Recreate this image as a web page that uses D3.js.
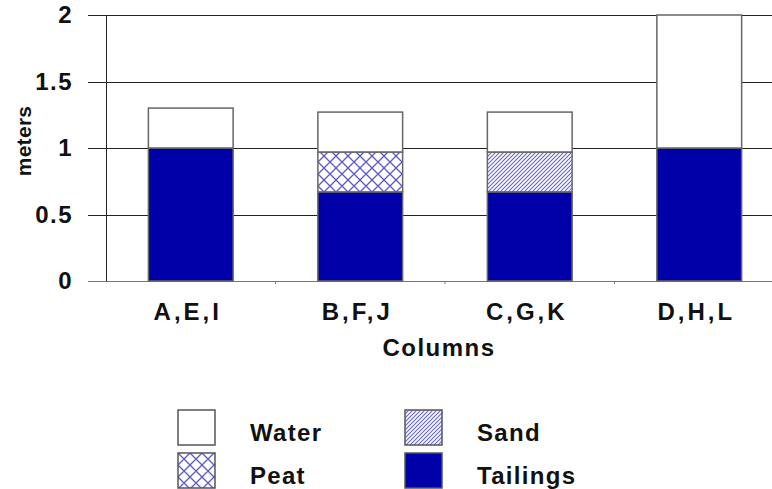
<!DOCTYPE html>
<html>
<head>
<meta charset="utf-8">
<script src="https://d3js.org/d3.v7.min.js"></script>
<style>
  body { margin: 0; background: #fff; }
  text { font-family: "Liberation Sans", Arial, sans-serif; font-weight: bold; fill: #111; }
</style>
</head>
<body>
<script>
// data
const categories = ["A,E,I", "B,F,J", "C,G,K", "D,H,L"];
const tailings = [1, 0.67, 0.67, 1];
const peat = [0, 0.3, 0, 0];
const sand = [0, 0, 0.3, 0];
const water = [0.3, 0.3, 0.3, 1];
const yTicks = [0, 0.5, 1, 1.5, 2];
const seriesNames = ["Tailings", "Peat", "Sand", "Water"];
const legendOrder = ["Water", "Sand", "Peat", "Tailings"];

let width = 772, height = 489;

let svg = d3.select("body").append("svg")
    .attr("width", width)
    .attr("height", height);

// fill patterns
let defs = svg.append("defs");
let peatPat = defs.append("pattern")
    .attr("id", "peat")
    .attr("patternUnits", "userSpaceOnUse")
    .attr("width", 12).attr("height", 12);
peatPat.append("rect").attr("width", 12).attr("height", 12).attr("fill", "#fff");
peatPat.append("path")
    .attr("d", "M0,0L12,12M12,0L0,12M-6,6L0,0M6,18L18,6M-6,6L6,18M6,-6L18,6")
    .attr("stroke", "#5858cc").attr("stroke-width", 1.3).attr("fill", "none");

let sandPat = defs.append("pattern")
    .attr("id", "sand")
    .attr("patternUnits", "userSpaceOnUse")
    .attr("width", 4).attr("height", 4);
sandPat.append("rect").attr("width", 4).attr("height", 4).attr("fill", "#fff");
sandPat.append("path")
    .attr("d", "M0,4L4,0M-1,1L1,-1M3,5L5,3")
    .attr("stroke", "#6a6ad2").attr("stroke-width", 1.2).attr("fill", "none");

let fills = {
    Tailings: "#0000a8",
    Peat: "url(#peat)",
    Sand: "url(#sand)",
    Water: "#ffffff"
};

let x = d3.scaleBand()
    .domain(categories)
    .range([106, 784])
    .paddingInner(0.5)
    .paddingOuter(0.25);

let y = d3.scaleLinear()
    .domain([0, 2])
    .range([281, 15]);

// gridlines + y ticks
svg.append("g")
    .selectAll("line")
    .data(yTicks)
    .join("line")
        .attr("x1", 88).attr("x2", width)
        .attr("y1", d => Math.round(y(d)) + 0.5)
        .attr("y2", d => Math.round(y(d)) + 0.5)
        .attr("stroke", d => d == 0 ? "#777" : "#222")
        .attr("stroke-width", 1);

svg.append("line")
    .attr("x1", 106.5).attr("x2", 106.5)
    .attr("y1", y(2)).attr("y2", y(0))
    .attr("stroke", "#222");

svg.append("g")
    .selectAll("text")
    .data(yTicks)
    .join("text")
        .attr("x", 73)
        .attr("y", d => y(d) + 8)
        .attr("text-anchor", "end")
        .style("font-size", "24px")
        .style("letter-spacing", "1.5px")
        .text(d => d);

// x ticks between categories
svg.append("g")
    .selectAll("line")
    .data(categories.slice(1))
    .join("line")
        .attr("x1", d => x(d) - x.step() * x.paddingInner() / 2)
        .attr("x2", d => x(d) - x.step() * x.paddingInner() / 2)
        .attr("y1", y(0)).attr("y2", y(0) + 3)
        .attr("stroke", "#777");

// stacked bars
let rows = categories.map((c, i) => ({
    cat: c, Tailings: tailings[i], Peat: peat[i], Sand: sand[i], Water: water[i]
}));
let stacked = d3.stack().keys(seriesNames)(rows);

svg.append("g")
    .selectAll("g")
    .data(stacked)
    .join("g")
        .attr("fill", d => fills[d.key])
    .selectAll("rect")
    .data(d => d.filter(s => s[1] > s[0]))
    .join("rect")
        .attr("x", d => x(d.data.cat))
        .attr("width", x.bandwidth())
        .attr("y", d => y(d[1]))
        .attr("height", d => y(d[0]) - y(d[1]))
        .attr("stroke", "#666")
        .attr("stroke-width", 1.5);

// category labels
svg.append("g")
    .selectAll("text")
    .data(categories)
    .join("text")
        .attr("x", d => x(d) + x.bandwidth() / 2 - 3)
        .attr("y", 320)
        .attr("text-anchor", "middle")
        .style("font-size", "24px")
        .style("letter-spacing", "3px")
        .text(d => d);

svg.append("text")
    .attr("x", 439).attr("y", 356)
    .attr("text-anchor", "middle")
    .style("font-size", "24px")
    .style("letter-spacing", "1.5px")
    .text("Columns");

svg.append("text")
    .attr("transform", "translate(31,141) rotate(-90)")
    .attr("text-anchor", "middle")
    .style("font-size", "21px")
    .style("letter-spacing", "0.3px")
    .text("meters");

// legend
let legend = svg.append("g")
    .selectAll("g")
    .data(legendOrder)
    .join("g")
        .attr("transform", (d, i) => "translate(" + (i % 2 == 0 ? 178 : 405) + "," + (i < 2 ? 410 : 453) + ")");

legend.append("rect")
    .attr("width", 37).attr("height", 35)
    .attr("fill", d => fills[d])
    .attr("stroke", "#555")
    .attr("stroke-width", 1.5);

legend.append("text")
    .attr("x", 72).attr("y", 31)
    .style("font-size", "24px")
    .style("letter-spacing", "1.3px")
    .text(d => d);
</script>
</body>
</html>
